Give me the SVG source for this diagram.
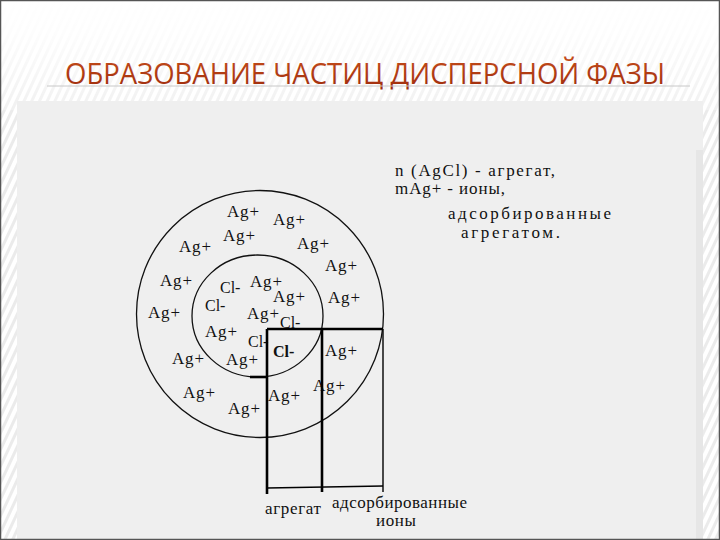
<svg xmlns="http://www.w3.org/2000/svg" width="720" height="540" viewBox="0 0 720 540">
<defs>
<pattern id="stripes" width="7" height="7" patternUnits="userSpaceOnUse" patternTransform="rotate(25)">
<rect width="7" height="7" fill="#ffffff"/>
<rect width="3" height="7" fill="#ebebeb"/>
</pattern>
<linearGradient id="topfade" x1="0" y1="0" x2="0" y2="1">
<stop offset="0" stop-color="#ffffff" stop-opacity="1"/>
<stop offset="0.3" stop-color="#ffffff" stop-opacity="0.9"/>
<stop offset="1" stop-color="#ffffff" stop-opacity="0.3"/>
</linearGradient>
<linearGradient id="titlegrad" x1="0" y1="0" x2="0" y2="1">
<stop offset="0" stop-color="#c8501c"/>
<stop offset="1" stop-color="#9c2a0c"/>
</linearGradient>
<style>
.ion{font-family:"Liberation Serif","Times New Roman",serif;font-size:17px;fill:#111;letter-spacing:0.8px}
.cl{font-family:"Liberation Serif","Times New Roman",serif;font-size:16px;fill:#111}
.txt{font-family:"Liberation Serif","Times New Roman",serif;font-size:17px;fill:#111}
.ring{fill:none;stroke:#111;stroke-width:1.3}
.thick{stroke:#000;stroke-width:2.6;fill:none}
.thin{stroke:#000;stroke-width:1.4;fill:none}
</style>
</defs>

<g id="background">
<rect x="0" y="0" width="720" height="540" fill="url(#stripes)"/>
<rect x="0" y="0" width="720" height="110" fill="url(#topfade)"/>
<rect x="17" y="101" width="686" height="439" fill="#efefef"/>
<rect x="696" y="150" width="7" height="390" fill="#e6e6e6"/>
<rect x="0.5" y="0.5" width="719" height="539" fill="none" stroke="#555" stroke-width="1.5"/>
</g>

<g id="title">
<text x="365" y="84" text-anchor="middle" font-family="'Open Sans','Noto Sans',sans-serif" font-size="29" fill="url(#titlegrad)" textLength="600" lengthAdjust="spacingAndGlyphs">ОБРАЗОВАНИЕ ЧАСТИЦ ДИСПЕРСНОЙ ФАЗЫ</text>
<line x1="47" y1="86" x2="690" y2="86" stroke="#c8c8c8" stroke-width="1"/>
</g>

<g id="legend">
<text class="txt" x="395" y="176" textLength="160" lengthAdjust="spacing">n (AgCl) - агрегат,</text>
<text class="txt" x="395" y="194" textLength="110" lengthAdjust="spacing">mAg+ - ионы,</text>
<text class="txt" x="448" y="219" textLength="163" lengthAdjust="spacing">адсорбированные</text>
<text class="txt" x="461" y="238" textLength="99" lengthAdjust="spacing">агрегатом.</text>
</g>

<g id="micelle">
<circle id="outer-ring" class="ring" cx="260" cy="314" r="123.5"/>
<ellipse id="inner-core" class="ring" cx="257.5" cy="316" rx="65.5" ry="61"/>
</g>

<g id="ions">
<text class="ion" x="227" y="217">Ag+</text>
<text class="ion" x="273" y="225">Ag+</text>
<text class="ion" x="223" y="241">Ag+</text>
<text class="ion" x="179" y="252">Ag+</text>
<text class="ion" x="297" y="249">Ag+</text>
<text class="ion" x="325" y="271">Ag+</text>
<text class="ion" x="160" y="286">Ag+</text>
<text class="ion" x="250" y="287">Ag+</text>
<text class="ion" x="273" y="302">Ag+</text>
<text class="ion" x="328" y="303">Ag+</text>
<text class="ion" x="148" y="318">Ag+</text>
<text class="ion" x="247" y="319">Ag+</text>
<text class="ion" x="205" y="337">Ag+</text>
<text class="ion" x="325" y="356">Ag+</text>
<text class="ion" x="172" y="364">Ag+</text>
<text class="ion" x="226" y="365">Ag+</text>
<text class="ion" x="313" y="391">Ag+</text>
<text class="ion" x="183" y="398">Ag+</text>
<text class="ion" x="268" y="401">Ag+</text>
<text class="ion" x="228" y="414">Ag+</text>
<text class="cl" x="220" y="293">Cl-</text>
<text class="cl" x="205" y="311">Cl-</text>
<text class="cl" x="280" y="328">Cl-</text>
<text class="cl" x="248" y="347">Cl-</text>
<text class="cl" x="273" y="357" font-weight="bold">Cl-</text>
</g>

<g id="connectors">
<line class="thick" x1="267" y1="329" x2="383" y2="329"/>
<line class="thick" x1="267" y1="329" x2="267" y2="494"/>
<line class="thick" x1="322" y1="328" x2="322" y2="492"/>
<line class="thin" x1="383" y1="329" x2="383" y2="492"/>
<line class="thin" x1="267" y1="488" x2="383" y2="486"/>
<line class="thick" x1="250" y1="377" x2="267" y2="377"/>
</g>

<g id="bottom-labels">
<text class="txt" x="265" y="514" textLength="56" lengthAdjust="spacing">агрегат</text>
<text class="txt" x="332" y="508" textLength="135" lengthAdjust="spacing">адсорбированные</text>
<text class="txt" x="376" y="526" textLength="40" lengthAdjust="spacing">ионы</text>
</g>
</svg>
